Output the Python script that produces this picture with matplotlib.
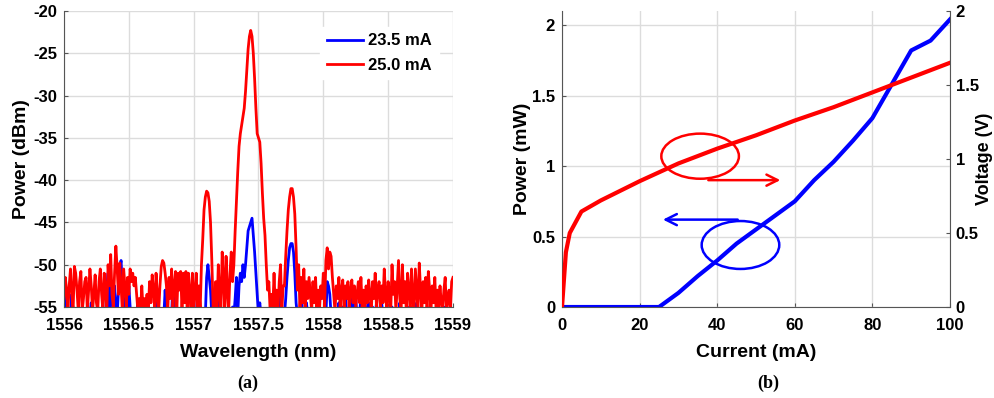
import numpy as np
import matplotlib
matplotlib.use("Agg")
import matplotlib.pyplot as plt
from matplotlib.patches import Ellipse

# (a) optical spectrum, 0.01 nm steps from 1556 to 1559 nm (one row = 0.1 nm)
wavelength = np.round(np.arange(1556.0, 1559.0001, 0.01), 2)
power_25_0 = [
    -54.0, -51.5, -53.0, -55.5, -52.5, -50.5, -53.5, -55.5, -50.2, -51.0,
    -53.0, -55.5, -52.0, -50.8, -55.5, -54.0, -52.0, -51.5, -55.5, -53.0,
    -50.5, -52.5, -55.5, -53.5, -51.2, -54.5, -55.5, -52.0, -50.5, -53.5,
    -55.5, -51.0, -53.0, -55.5, -50.0, -52.5, -48.8, -53.5, -55.0, -51.0,
    -47.8, -50.5, -53.5, -49.8, -52.5, -55.5, -50.5, -52.5, -55.0, -51.5,
    -53.5, -50.5, -52.0, -51.0, -52.5, -51.5, -53.5, -55.5, -54.0, -55.5,
    -52.5, -55.5, -54.0, -55.5, -53.5, -55.5, -52.0, -54.5, -51.2, -53.0,
    -55.5, -51.0, -53.5, -55.5, -52.5, -50.2, -49.5, -49.8, -51.0, -52.5,
    -55.5, -51.5, -54.0, -50.5, -55.0, -52.5, -50.8, -55.5, -51.0, -53.0,
    -50.8, -55.5, -51.0, -54.5, -50.8, -55.5, -51.0, -53.5, -55.5, -51.0,
    -55.5, -53.0, -51.0, -55.5, -52.5, -55.5, -50.0, -47.0, -43.5, -42.0,
    -41.3, -41.5, -42.5, -45.0, -49.5, -55.0, -55.5, -52.0, -55.5, -50.0,
    -53.5, -55.5, -48.5, -51.5, -55.5, -49.0, -53.0, -55.5, -51.0, -48.5,
    -52.0, -50.0, -46.0, -42.5, -39.0, -36.0, -34.5, -33.5, -32.5, -31.5,
    -29.5, -27.0, -24.5, -23.0, -22.3, -23.0, -25.0, -28.0, -31.5, -34.5,
    -35.0, -35.5, -38.0, -41.5, -44.5, -46.5, -50.0, -53.0, -52.0, -55.5,
    -53.5, -55.5, -51.0, -55.5, -53.0, -55.5, -52.0, -50.0, -55.5, -52.5,
    -52.5, -49.0, -46.0, -43.5, -42.0, -41.0, -41.0, -42.0, -44.0, -48.0,
    -53.0, -50.0, -55.5, -51.5, -54.5, -50.5, -55.5, -52.0, -54.0, -51.5,
    -53.5, -55.5, -52.0, -54.5, -51.5, -55.0, -53.0, -55.5, -52.5, -54.0,
    -51.0, -55.0, -49.5, -48.0, -50.5, -48.5, -49.0, -51.5, -53.5, -55.5,
    -52.5, -54.0, -51.5, -55.0, -53.0, -51.8, -55.5, -52.5, -54.0, -52.0,
    -55.5, -53.0, -51.8, -54.5, -52.5, -55.0, -53.5, -52.0, -54.5, -51.5,
    -55.0, -53.0, -55.5, -52.5, -54.5, -51.8, -53.5, -55.5, -52.0, -54.0,
    -51.0, -55.0, -53.0, -52.0, -55.0, -52.5, -54.5, -50.5, -53.5, -55.5,
    -52.0, -53.5, -55.5, -50.0, -53.5, -52.0, -55.5, -52.5, -49.5, -54.0,
    -55.5, -50.0, -54.5, -52.0, -55.5, -51.0, -53.0, -55.5, -50.5, -54.0,
    -55.5, -50.5, -53.0, -55.5, -49.8, -53.0, -55.5, -52.0, -54.5, -51.5,
    -55.5, -50.8, -53.0, -55.5, -52.5, -54.5, -51.5, -55.5, -53.0, -55.0,
    -52.5, -54.5, -55.5, -53.0, -51.5, -55.5, -54.0, -53.0, -55.5, -52.0,
    -51.5,
]
power_23_5 = [
    -54.5, -52.5, -56.0, -56.0, -56.0, -56.0, -53.5, -56.0, -56.0, -56.0,
    -56.0, -56.0, -56.0, -56.0, -56.0, -56.0, -56.0, -56.0, -56.0, -56.0,
    -56.0, -54.5, -56.0, -56.0, -56.0, -56.0, -56.0, -56.0, -56.0, -56.0,
    -56.0, -56.0, -56.0, -53.0, -51.0, -56.0, -52.0, -54.0, -56.0, -52.5,
    -55.0, -56.0, -53.0, -50.5, -49.5, -52.5, -56.0, -54.0, -56.0, -56.0,
    -52.5, -55.0, -56.0, -56.0, -56.0, -56.0, -56.0, -54.5, -56.0, -56.0,
    -56.0, -56.0, -56.0, -56.0, -56.0, -56.0, -56.0, -56.0, -56.0, -56.0,
    -56.0, -54.0, -56.0, -56.0, -56.0, -56.0, -56.0, -56.0, -53.0, -56.0,
    -56.0, -56.0, -56.0, -56.0, -52.0, -55.0, -56.0, -56.0, -56.0, -56.0,
    -56.0, -56.0, -56.0, -56.0, -56.0, -56.0, -56.0, -56.0, -56.0, -56.0,
    -56.0, -56.0, -56.0, -53.5, -56.0, -56.0, -56.0, -56.0, -56.0, -56.0,
    -51.5, -50.0, -51.5, -53.0, -56.0, -56.0, -54.5, -56.0, -56.0, -56.0,
    -52.0, -56.0, -56.0, -56.0, -56.0, -56.0, -56.0, -56.0, -56.0, -56.0,
    -55.0, -56.0, -54.0, -51.5, -56.0, -52.5, -51.0, -52.0, -50.0, -51.5,
    -50.0, -48.0, -46.0, -45.5, -45.0, -44.5, -46.5, -48.5, -51.0, -53.5,
    -56.0, -54.5, -56.0, -56.0, -56.0, -56.0, -56.0, -56.0, -56.0, -56.0,
    -56.0, -56.0, -56.0, -54.0, -56.0, -56.0, -53.0, -56.0, -56.0, -56.0,
    -56.0, -54.0, -51.5, -49.5, -48.0, -47.5, -47.5, -48.5, -51.0, -54.5,
    -56.0, -56.0, -56.0, -53.0, -56.0, -56.0, -56.0, -54.5, -56.0, -56.0,
    -56.0, -56.0, -56.0, -56.0, -56.0, -55.0, -56.0, -56.0, -56.0, -56.0,
    -56.0, -55.0, -56.0, -52.0, -52.5, -53.5, -56.0, -56.0, -55.5, -56.0,
    -56.0, -56.0, -54.5, -56.0, -56.0, -55.0, -56.0, -53.5, -56.0, -56.0,
    -55.0, -56.0, -53.0, -56.0, -56.0, -54.0, -56.0, -56.0, -56.0, -53.5,
    -56.0, -56.0, -54.0, -56.0, -56.0, -54.5, -56.0, -56.0, -55.0, -56.0,
    -56.0, -54.5, -56.0, -56.0, -56.0, -54.5, -56.0, -56.0, -56.0, -55.0,
    -56.0, -56.0, -56.0, -55.0, -56.0, -56.0, -56.0, -56.0, -56.0, -54.5,
    -56.0, -56.0, -56.0, -56.0, -56.0, -55.0, -56.0, -56.0, -56.0, -56.0,
    -56.0, -56.0, -54.5, -56.0, -56.0, -56.0, -56.0, -56.0, -56.0, -56.0,
    -55.0, -56.0, -56.0, -56.0, -56.0, -56.0, -56.0, -56.0, -56.0, -56.0,
    -56.0, -56.0, -56.0, -56.0, -55.0, -56.0, -56.0, -56.0, -56.0, -56.0,
    -56.0,
]

# (b) L-I-V curves
current_p = [0, 25, 30, 35, 40, 45, 50, 55, 60, 65, 70, 75, 80, 85, 90, 95, 100]
power_mw = [0, 0, 0.10, 0.22, 0.33, 0.45, 0.55, 0.65, 0.75, 0.90, 1.03, 1.18,
            1.34, 1.58, 1.82, 1.89, 2.04]
current_v = [0, 1, 2, 5, 10, 20, 30, 40, 50, 60, 70, 80, 90, 100]
voltage = [0, 0.37, 0.50, 0.645, 0.72, 0.85, 0.97, 1.07, 1.16, 1.26, 1.35,
           1.45, 1.55, 1.65]

plt.rcParams["font.family"] = ["Liberation Sans", "DejaVu Sans"]
plt.rcParams["font.weight"] = "bold"
plt.rcParams["axes.unicode_minus"] = False
grid_col = "#dcdcdc"
spine_col = "#555555"
tick_fs = 12
label_fs = 14

fig = plt.figure(figsize=(9.94, 3.98), dpi=100)

def style_axes(ax):
    ax.grid(True, color=grid_col, linewidth=1.0)
    ax.set_axisbelow(True)
    for s in ["top", "right"]:
        ax.spines[s].set_visible(False)
    for s in ["left", "bottom"]:
        ax.spines[s].set_color(spine_col)
    ax.tick_params(direction="in", length=3, color=spine_col, labelsize=tick_fs)
    ax.tick_params(axis="x", pad=8)
    ax.tick_params(axis="y", pad=5)
    for lab in ax.get_xticklabels() + ax.get_yticklabels():
        lab.set_fontweight("bold")

# ---- (a)
ax1 = fig.add_axes([0.0644, 0.2286, 0.3913, 0.7438])
ax1.plot(wavelength, power_23_5, color="#0000ff", linewidth=2.0, label="23.5 mA")
ax1.plot(wavelength, power_25_0, color="#ff0000", linewidth=2.0, label="25.0 mA")
ax1.set_xlim(1556, 1559)
ax1.set_ylim(-55, -20)
ax1.set_xticks([1556, 1556.5, 1557, 1557.5, 1558, 1558.5, 1559])
ax1.set_xticklabels(["1556", "1556.5", "1557", "1557.5", "1558", "1558.5", "1559"])
ax1.set_yticks(np.arange(-55, -19, 5))
style_axes(ax1)
ax1.set_xlabel("Wavelength (nm)", fontsize=label_fs, fontweight="bold", labelpad=8)
ax1.set_ylabel("Power (dBm)", fontsize=label_fs, fontweight="bold", labelpad=2)
leg = ax1.legend(loc="upper right", bbox_to_anchor=(0.985, 0.975), frameon=True,
                 fontsize=12, handlelength=2.2, handletextpad=0.3, borderpad=0.4,
                 labelspacing=0.55)
leg.get_frame().set_edgecolor("white")
leg.get_frame().set_alpha(1)
for t in leg.get_texts():
    t.set_fontweight("bold")

# ---- (b)
ax2 = fig.add_axes([0.5654, 0.2286, 0.3903, 0.7438])
ax2.plot(current_p, power_mw, color="#0000ff", linewidth=3, solid_joinstyle="round")
ax2.set_xlim(0, 100)
ax2.set_ylim(0, 2.1)
ax2.set_xticks([0, 20, 40, 60, 80, 100])
ax2.set_yticks([0, 0.5, 1, 1.5, 2])
ax2.set_yticklabels(["0", "0.5", "1", "1.5", "2"])
style_axes(ax2)
ax2.set_xlabel("Current (mA)", fontsize=label_fs, fontweight="bold", labelpad=8)
ax2.set_ylabel("Power (mW)", fontsize=label_fs, fontweight="bold", labelpad=1)

ax3 = ax2.twinx()
ax3.plot(current_v, voltage, color="#ff0000", linewidth=3, solid_joinstyle="round")
ax3.set_ylim(0, 2)
ax3.set_yticks([0, 0.5, 1, 1.5, 2])
ax3.set_yticklabels(["0", "0.5", "1", "1.5", "2"])
for s in ["top", "left", "bottom"]:
    ax3.spines[s].set_visible(False)
ax3.spines["right"].set_color(spine_col)
ax3.tick_params(direction="in", length=3, color=spine_col, labelsize=tick_fs, pad=4)
for lab in ax3.get_yticklabels():
    lab.set_fontweight("bold")
ax3.set_ylabel("Voltage (V)", fontsize=13, fontweight="bold", rotation=90)
ax3.yaxis.set_label_coords(1.066, 0.5)

# ellipse + arrow annotations (in power-axis coordinates)
ax2.add_patch(Ellipse((35.6, 1.07), 20, 0.32, fill=False, edgecolor="#ff0000", linewidth=1.8, zorder=5))
ax2.annotate("", xy=(57, 0.9), xytext=(37, 0.9),
             arrowprops=dict(arrowstyle="->", color="#ff0000", lw=1.8, mutation_scale=20))
ax2.add_patch(Ellipse((46, 0.44), 20, 0.34, fill=False, edgecolor="#0000ff", linewidth=1.8, zorder=5))
ax2.annotate("", xy=(25.3, 0.62), xytext=(46, 0.62),
             arrowprops=dict(arrowstyle="->", color="#0000ff", lw=1.8, mutation_scale=20))

fig.text(248 / 994, 1 - 383 / 398, "(a)", ha="center", va="center",
         fontsize=13, fontweight="bold", family="Liberation Serif")
fig.text(768 / 994, 1 - 383 / 398, "(b)", ha="center", va="center",
         fontsize=13, fontweight="bold", family="Liberation Serif")

fig.savefig("out.png", dpi=100)
